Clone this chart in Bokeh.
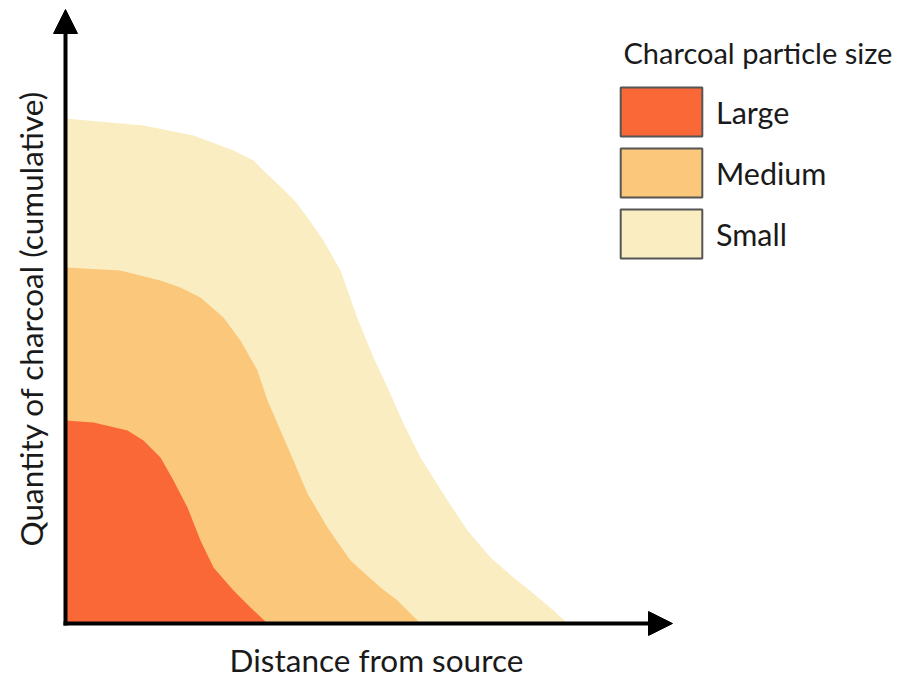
import numpy as np
from bokeh.plotting import figure
from bokeh.models import Range1d, Arrow, NormalHead, Label, Legend, LegendItem, ColumnDataSource
from bokeh.embed import file_html
from bokeh.resources import INLINE

# ---- data: cumulative top boundary of each particle-size band (distance, quantity) ----
size_classes = ["Large", "Medium", "Small"]
colors = ["#F96836", "#FBC87B", "#FAEDC2"]
legend_title = "Charcoal particle size"
x_label = "Distance from source"
y_label = "Quantity of charcoal (cumulative)"

small_x = [0, 0.78, 1.28, 1.68, 1.88, 2.02, 2.15, 2.30, 2.42, 2.58, 2.75, 2.92, 3.08, 3.22,
           3.38, 3.55, 3.82, 4.02, 4.25, 4.48, 4.68, 4.88, 5.02]
small_y = [5.05, 4.98, 4.88, 4.73, 4.63, 4.49, 4.37, 4.22, 4.06, 3.83, 3.53, 3.05, 2.66, 2.36,
           2.00, 1.66, 1.23, 0.93, 0.66, 0.46, 0.30, 0.13, 0.0]

medium_x = [0, 0.55, 0.95, 1.15, 1.35, 1.58, 1.75, 1.92, 2.02, 2.15, 2.28, 2.42, 2.62, 2.85,
            3.15, 3.32, 3.52, 3.55]
medium_y = [3.56, 3.53, 3.43, 3.36, 3.26, 3.06, 2.83, 2.53, 2.23, 1.93, 1.63, 1.30, 0.96, 0.63,
            0.36, 0.23, 0.03, 0.0]

large_x = [0, 0.28, 0.62, 0.78, 0.88, 0.95, 1.08, 1.22, 1.35, 1.48, 1.68, 1.85, 2.02]
large_y = [2.03, 2.01, 1.93, 1.83, 1.73, 1.66, 1.43, 1.16, 0.83, 0.56, 0.33, 0.16, 0.0]

x_arrow_end = 6.07
y_arrow_end = 6.14

FONT = "Lato"
TXT = "#1a1a1a"

p = figure(width=901, height=678,
           x_range=Range1d(-0.65, 8.36), y_range=Range1d(-0.55, 6.23),
           x_axis_type=None, y_axis_type=None,
           toolbar_location=None, output_backend="svg",
           min_border=0, outline_line_color=None)
p.grid.visible = False

bands = [(small_x, small_y, colors[2]), (medium_x, medium_y, colors[1]), (large_x, large_y, colors[0])]
for xs, ys, c in bands:
    p.varea(x=xs, y1=[0] * len(xs), y2=ys, fill_color=c)

# axes with arrows
p.add_layout(Arrow(x_start=-0.02, y_start=0, x_end=x_arrow_end, y_end=0, line_width=4, line_color="black",
                   end=NormalHead(size=24, fill_color="black", line_color="black", line_width=1)))
p.add_layout(Arrow(x_start=0, y_start=-0.02, x_end=0, y_end=y_arrow_end, line_width=4, line_color="black",
                   end=NormalHead(size=24, fill_color="black", line_color="black", line_width=1)))

# axis labels
p.add_layout(Label(x=376, y=0, x_units="screen", y_units="screen", text=x_label,
                   text_align="center", text_baseline="bottom", text_font=FONT,
                   text_font_size="31.5px", text_color=TXT))
p.add_layout(Label(x=30, y=360, x_units="screen", y_units="screen", text=y_label,
                   angle=np.pi / 2, text_align="center", text_baseline="middle", text_font=FONT,
                   text_font_size="31.5px", text_color=TXT))

# legend title
p.add_layout(Label(x=623, y=626, x_units="screen", y_units="screen", text=legend_title,
                   text_align="left", text_baseline="middle", text_font=FONT,
                   text_font_size="29px", text_color=TXT))

# legend
items = []
for name, c in zip(size_classes, colors):
    src = ColumnDataSource(dict(x=[np.nan], y=[np.nan]))
    r = p.rect(x="x", y="y", width=1, height=1, source=src, fill_color=c,
               line_color="#555555", line_width=2)
    items.append(LegendItem(label=name, renderers=[r]))

legend = Legend(items=items, location=(610, 414),
                glyph_width=102, glyph_height=61, spacing=0, label_standoff=4,
                padding=0, margin=0, border_line_color=None, background_fill_alpha=0,
                label_text_font=FONT, label_text_font_size="30.5px", label_text_color=TXT)
p.add_layout(legend)

open("out.html", "w").write(file_html(p, INLINE))
